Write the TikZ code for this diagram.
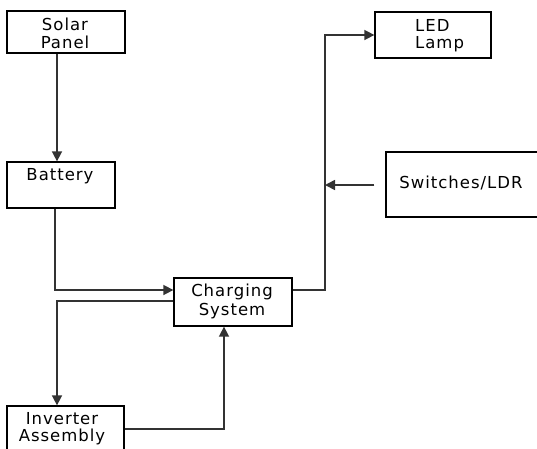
\documentclass[tikz,border=0pt]{standalone}
\usepackage{fontspec}
\setmainfont[LetterSpace=6]{DejaVu Sans}
\usetikzlibrary{arrows.meta,calc}
\begin{document}
\begin{tikzpicture}[x=1pt,y=-1pt,
  box/.style={draw=black,line width=1.3pt,inner sep=0pt,fill=white},
  txt/.style={font=\fontsize{16.5}{19}\selectfont,inner sep=0pt,text=black},
  conn/.style={draw=black!80,line width=1.6pt,-{Triangle[length=10pt,width=10pt]}}]
\useasboundingbox (0,0) rectangle (537,448);
\clip (0,0) rectangle (537,448);
\fill[white] (0,0) rectangle (537,448);
% boxes
\node[box,minimum width=118pt,minimum height=42pt] (sp) at (66,32) {};
\node[box,minimum width=108pt,minimum height=46pt] (bat) at (61,185) {};
\node[box,minimum width=118pt,minimum height=48pt] (cs) at (233,302) {};
\node[box,minimum width=117pt,minimum height=50pt] (inv) at (65.5,431) {};
\node[box,minimum width=116pt,minimum height=46pt] (led) at (433,35) {};
\node[box,minimum width=174pt,minimum height=65pt] (sw) at (473,184.5) {};
% texts
\node[txt] (spt1) at (65,24) {Solar};
\node[txt] (spt2) at (65,42) {Panel};
\node[txt] (batt) at (60,176) {Battery};
\node[txt] (cst1) at (232,292) {Charging};
\node[txt] (cst2) at (232,311) {System};
\node[txt] (invt1) at (62,419) {Inverter};
\node[txt] (invt2) at (62,437) {Assembly};
\node[txt,anchor=west] (ledt1) at (415,25) {LED};
\node[txt,anchor=west] (ledt2) at (415,44) {Lamp};
\node[txt] (swt) at (461,183) {Switches/LDR};
% connectors
\coordinate (swstart) at ($(sw.west)+(-11,0.5)$);
\coordinate (bus) at (325,185);
\draw[conn] (sp.south -| 57,0) -- (bat.north -| 57,0);
\draw[conn] (bat.south -| 55,0) -- (55,290) -- (cs.west |- 0,290);
\draw[conn] (cs.west |- 0,301) -- (57,301) -- (inv.north -| 57,0);
\draw[conn] (inv.east |- 0,429) -- (224,429) -- (cs.south -| 224,0);
\draw[conn] (cs.east |- 0,290) -- (325,290) -- (325,35) -- (led.west |- 0,35);
\draw[conn] (swstart) -- (bus);
\end{tikzpicture}
\end{document}
